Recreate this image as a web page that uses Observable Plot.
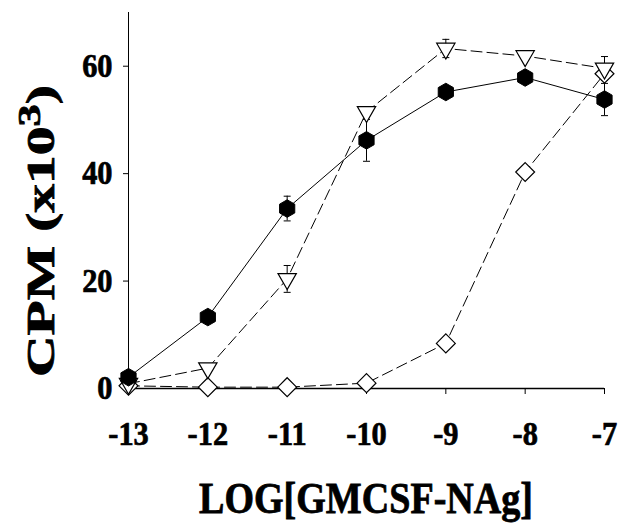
<!DOCTYPE html>
<html>
<head>
<meta charset="utf-8">
<script src="https://cdn.jsdelivr.net/npm/d3@7"></script>
<script src="https://cdn.jsdelivr.net/npm/@observablehq/plot@0.6"></script>
<style>
  html, body { margin: 0; padding: 0; background: #fff; }
  #chart svg { display: block; }
</style>
</head>
<body>
<div id="chart"></div>
<script>
// ---- data ----
const logDose = [-13, -12, -11, -10, -9, -8, -7];
const hexCPM  = [2.1, 13.3, 33.5, 46.2, 55.2, 57.9, 53.8];   // filled hexagons, solid line
const hexErr  = [0, 0, 2.3, 3.9, 0, 0, 3.0];
const triCPM  = [0.9, 3.8, 20.4, 51.5, 63.3, 61.9, 59.6];    // open down-triangles, dashed
const triErr  = [0, 0, 2.5, 0, 1.7, 0, 2.2];
const diaCPM  = [0.5, 0.25, 0.25, 1.0, 8.4, 40.3, 58.6];     // open diamonds, dashed
const xTicks  = [-13, -12, -11, -10, -9, -8, -7];
const yTicks  = [0, 20, 40, 60];
const xTitle  = "LOG[GMCSF-NAg]";
const yTitleMain = "CPM (x10";
const yTitleSup  = "3";
const yTitleEnd  = ")";

const rows = logDose.map((x, i) => ({x, hex: hexCPM[i], tri: triCPM[i], dia: diaCPM[i]}));
const errRows = [];
logDose.forEach((x, i) => {
  if (hexErr[i] > 0) errRows.push({x, lo: hexCPM[i] - hexErr[i], hi: hexCPM[i] + hexErr[i]});
  if (triErr[i] > 0) errRows.push({x, lo: triCPM[i] - triErr[i], hi: triCPM[i] + triErr[i]});
});

const capSymbol = {
  draw(ctx, size) {
    const w = Math.sqrt(size / Math.PI);
    ctx.moveTo(-w, 0);
    ctx.lineTo(w, 0);
  }
};

const FONT = "'Liberation Serif', 'Times New Roman', serif";
const dashed = {stroke: "#000", strokeWidth: 1, strokeDasharray: "11,5"};

const chart = Plot.plot({
  width: 624,
  height: 524,
  marginLeft: 128,
  marginRight: 20,
  marginTop: 12,
  marginBottom: 136,
  style: {
    fontFamily: FONT,
    fontWeight: "bold",
    color: "#000",
    background: "#fff",
    overflow: "visible"
  },
  x: {domain: [-13, -7]},
  y: {domain: [0, 70]},
  marks: [
    Plot.ruleX([-13], {stroke: "#000", strokeWidth: 1}),
    Plot.ruleY([0], {stroke: "#000", strokeWidth: 1.6}),
    Plot.axisX({ticks: xTicks, tickSize: 6, tickPadding: 27, tickFormat: d => String(d), fontSize: 33, label: null}),
    Plot.axisY({ticks: yTicks, tickSize: 5, tickPadding: 11, tickFormat: d => String(d), fontSize: 33, label: null}),
    Plot.line(rows, {x: "x", y: "dia", ...dashed}),
    Plot.line(rows, {x: "x", y: "tri", ...dashed}),
    Plot.line(rows, {x: "x", y: "hex", stroke: "#000", strokeWidth: 1}),
    Plot.ruleX(errRows, {x: "x", y1: "lo", y2: "hi", stroke: "#000", strokeWidth: 1}),
    Plot.dot(errRows, {x: "x", y: "lo", symbol: capSymbol, r: 3.5, fill: "none", stroke: "#000", strokeWidth: 1}),
    Plot.dot(errRows, {x: "x", y: "hi", symbol: capSymbol, r: 3.5, fill: "none", stroke: "#000", strokeWidth: 1}),
    Plot.dot(rows, {x: "x", y: "dia", symbol: "diamond2", r: 8.5, fill: "#fff", stroke: "#000", strokeWidth: 1.2}),
    Plot.dot(rows, {x: "x", y: "tri", symbol: "triangle", rotate: 180, r: 6.8, fill: "#fff", stroke: "#000", strokeWidth: 1.2}),
    Plot.dot(rows, {x: "x", y: "hex", symbol: "hexagon", r: 7.6, fill: "#000", stroke: "#000", strokeWidth: 1})
  ]
});

document.getElementById("chart").appendChild(chart);
const svg = d3.select(chart);

// condense and embolden tick labels (the reference uses a narrow, heavy face)
svg.selectAll("text").each(function () {
  const len = this.getComputedTextLength();
  if (len > 0) {
    this.setAttribute("textLength", (len * 0.92).toFixed(2));
    this.setAttribute("lengthAdjust", "spacingAndGlyphs");
  }
  this.setAttribute("stroke", "#000");
  this.setAttribute("stroke-width", "0.7");
});

// x-axis title
const xt = svg.append("text")
  .attr("text-anchor", "middle")
  .attr("font-family", FONT)
  .attr("font-weight", "bold")
  .attr("font-size", 44)
  .attr("fill", "#000")
  .attr("stroke", "#000")
  .attr("stroke-width", 0.8)
  .text(xTitle);
{
  const w = xt.node().getBBox().width;
  xt.attr("transform", `translate(366,513) scale(${334 / w},1)`);
}

// y-axis title with superscript
const yt = svg.append("text")
  .attr("text-anchor", "middle")
  .attr("font-family", FONT)
  .attr("font-weight", "bold")
  .attr("font-size", 40)
  .attr("fill", "#000")
  .attr("stroke", "#000")
  .attr("stroke-width", 0.8);
yt.append("tspan").text(yTitleMain);
yt.append("tspan").attr("font-size", 31).attr("dy", -14).text(yTitleSup);
yt.append("tspan").attr("dy", 14).text(yTitleEnd);
{
  const w = yt.node().getBBox().width;
  yt.attr("transform", `translate(54,231) rotate(-90) scale(${292 / w},1)`);
}
</script>
</body>
</html>
